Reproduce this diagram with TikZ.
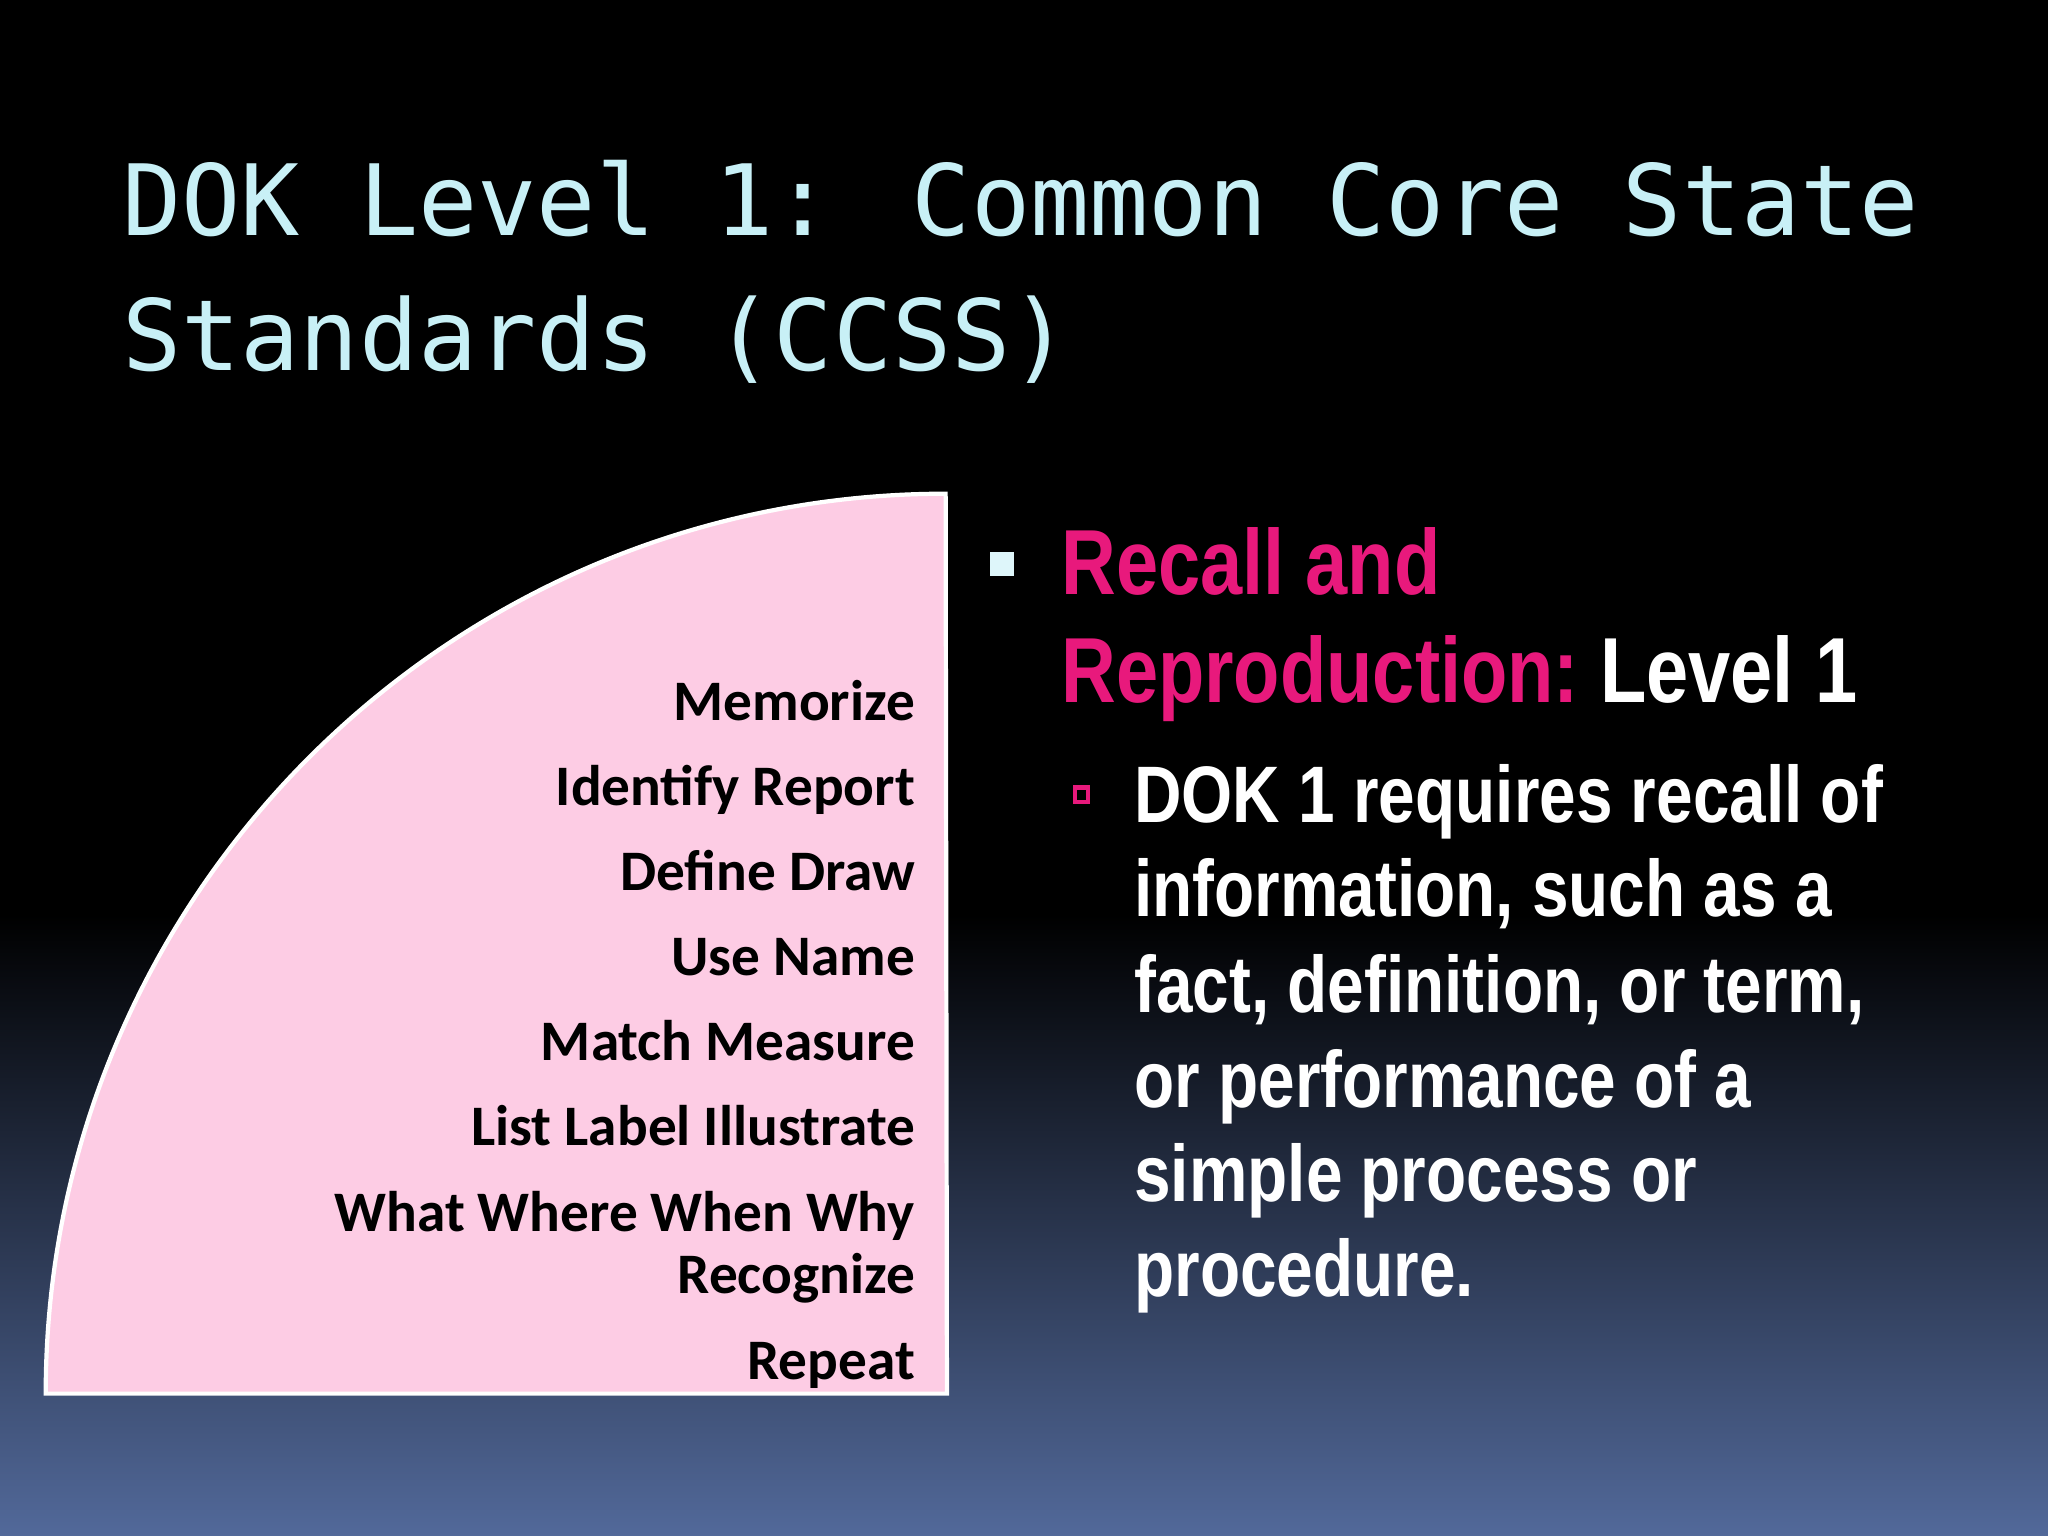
\documentclass[tikz,border=0pt]{standalone}
\usepackage{fontspec}
\setmainfont{Liberation Sans}
\newfontfamily\ttlfont{DejaVu Sans Mono}
\newfontfamily\carfont{Carlito}
\newfontfamily\narfont[FakeStretch=0.82]{Liberation Sans}
\definecolor{ttlc}{HTML}{C8F0F6}
\definecolor{pinkf}{HTML}{FDCCE4}
\definecolor{mag}{HTML}{E8197C}
\definecolor{botc}{HTML}{52699A}
\tikzset{
  lab/.style={anchor=base east,font=\carfont\bfseries\fontsize{16.3}{18}\selectfont,text=black,inner sep=0},
  rt/.style={anchor=base west,font=\narfont\bfseries\fontsize{22.8}{26}\selectfont,text=white,inner sep=0},
  hd/.style={anchor=base west,font=\narfont\bfseries\fontsize{26.3}{30}\selectfont,inner sep=0},
  tl/.style={anchor=base west,font=\ttlfont\fontsize{28}{32}\selectfont,text=ttlc,inner sep=0}
}
\begin{document}
\begin{tikzpicture}[x=0.013061cm,y=-0.013061cm]
\fill[black] (0,0) rectangle (1568,1176);
\shade[top color=black,bottom color=botc] (0,700) rectangle (1568,1176);
\useasboundingbox (0,0) rectangle (1568,1176);
\node[tl] (t1) at (93,180) {DOK Level 1: Common Core State};
\node[tl] (t2) at (93,284) {Standards (CCSS)};
\coordinate (c) at (725,1067);
\filldraw[fill=pinkf,draw=white,line width=1.2pt] (c) -- (35,1067) arc[start angle=180,end angle=270,radius=689] -- cycle;
\node[lab] (l1) at (701,552) {Memorize};
\node[lab] (l2) at (701,617) {Identify Report};
\node[lab] (l3) at (701,682) {Define Draw};
\node[lab] (l4) at (701,747) {Use Name};
\node[lab] (l5) at (701,812) {Match Measure};
\node[lab] (l6) at (701,877) {List Label Illustrate};
\node[lab] (l7) at (701,943) {What Where When Why};
\node[lab] (l8) at (701,990) {Recognize};
\node[lab] (l9) at (701,1056) {Repeat};
\fill[ttlc!60!white] (758,423) rectangle (776,441);
\node[hd,text=mag] (h1) at (812,455) {Recall and};
\node[hd] (h2) at (812,538) {\textcolor{mag}{Reproduction:}\hspace{-2pt} \textcolor{white}{Level 1}};
\draw[mag,line width=1.3pt] (823,603) rectangle (833,614);
\node[rt] (r1) at (868,630) {DOK 1 requires recall of};
\node[rt] (r2) at (868,702) {information, such as a};
\node[rt] (r3) at (868,775) {fact, definition, or term,};
\node[rt] (r4) at (868,848) {or performance of a};
\node[rt] (r5) at (868,920) {simple process or};
\node[rt] (r6) at (868,993) {procedure.};
\end{tikzpicture}
\end{document}
